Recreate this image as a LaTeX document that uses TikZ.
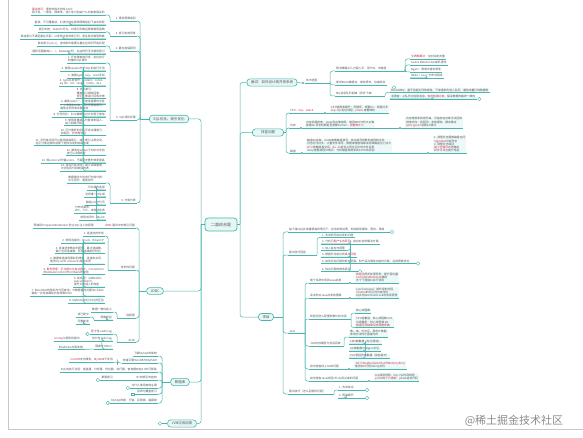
\documentclass[tikz,border=0pt]{standalone}
\usepackage{fontspec}
\usepackage{tikz}
\usepackage{xcolor}
\usetikzlibrary{positioning}
\newfontfamily\cjk{Noto Sans CJK SC}
\definecolor{mline}{RGB}{72,182,174}
\definecolor{mfill}{RGB}{230,247,246}
\definecolor{mtext}{RGB}{85,85,85}
\definecolor{mred}{RGB}{205,45,70}
\newcommand{\hl}[1]{\textcolor{mred}{#1}}

\begin{document}
\begin{tikzpicture}[x=1pt,y=-1pt,font=\cjk,
  root/.style={draw=mline,fill=mfill,rounded corners=3pt,line width=0.7pt,font=\cjk\fontsize{4}{5}\selectfont,text=mtext,minimum width=32pt,minimum height=13pt,inner sep=1pt},
  topic/.style={draw=mline,fill=mfill,rounded corners=3pt,line width=0.6pt,font=\cjk\fontsize{3.5}{4}\selectfont,text=mtext,inner xsep=4pt,inner ysep=2pt},
  leaf/.style={font=\cjk\fontsize{2.8}{3.3}\selectfont,text=mtext,inner xsep=1pt,inner ysep=0.6pt,align=left,
    append after command={(\tikzlastnode.south west) edge[ul] (\tikzlastnode.south east)}},
  leafl/.style={leaf,anchor=south east},
  leafr/.style={leaf,anchor=south west},
  blk/.style={fill=mfill!70},
  ul/.style={draw=mline,line width=0.5pt},
  ln/.style={draw=mline,line width=0.5pt,rounded corners=2.5pt},
  dot/.style={circle,fill=mline!60!black,inner sep=0pt,minimum size=1.6pt},
  ring/.style={circle,draw=mline,fill=white,inner sep=0pt,minimum size=3.6pt,line width=0.4pt}
]
\useasboundingbox (0,0) rectangle (583,438);
\fill[white] (0,0) rectangle (583,438);
\draw[black!22,line width=0.8pt] (8,0) -- (8,429.5) -- (583,429.5);
\node[font=\cjk\fontsize{11}{12}\selectfont,text=black!45] (wm) at (514,421) {@稀土掘金技术社区};

% centre and main topics
\node[root] (root) at (221,224.5) {二面综合题};
\coordinate (lt) at (201,224.5);
\coordinate (rt) at (240,224.5);
\draw[ln] (root.west) -- (lt);
\draw[ln] (root.east) -- (rt);

\node[topic] (sql) at (169,119) {SQL优化、索引优化};
\node[topic] (jdbc) at (155,291) {JDBC};
\node[topic] (db) at (180,382) {数据库};
\node[topic] (jvm) at (182,423.5) {JVM垃圾回收};
\node[topic] (hs) at (272,82.5) {面试：如何设计高并发系统};
\node[topic,minimum width=31pt] (pc) at (268,132.5) {排查问题};
\node[topic] (xm) at (266,317) {项目};
\foreach \t in {sql,jdbc,db,jvm} \draw[ln] (lt) |- (\t.east);
\foreach \t in {hs,pc,xm} \draw[ln] (rt) |- (\t.west);
\node[ring] (jvmr) at (160,423.5) {};
\draw[ln] (jvmr) -- (jvm.west);

% SQL优化
\coordinate (sqlb) at (140,119);
\draw[ln] (sql.west) -- (sqlb);
\foreach \n/\y/\lbl in {1/21/{1. 事务隔离级别},2/36/{2. 索引失效场景},3/51/{3. 最左前缀原则},4/120/{4. SQL调优步骤},5/203/{5. 分库分表}}{
  \node[leafl] (sql\n) at (137,\y) {\lbl};
  \draw[ln] (sqlb) |- (sql\n.south east);
}
\foreach \p in {1,2,3,4,5} \draw[ln] (sql\p.south west) -- (110,0 |- sql\p.south west) coordinate (sql\p b);
\foreach \n/\y/\lbl in {a/15/{\hl{面试常问}：事务的四大特性 ACID\\原子性、一致性、隔离性、持久性分别由什么机制来保证的},b/25/{脏读、不可重复读、幻读分别在哪种隔离级别下会出现呢}}{
  \node[leafl] (sql1\n) at (106,\y) {\lbl};
  \draw[ln] (sql1b) |- (sql1\n.south east);
}
\foreach \n/\y/\lbl in {a/32/{索引失效：like以\%开头、对索引列做运算或使用函数},b/39/{联合索引不满足最左匹配，or条件中含非索引列，发生隐式类型转换}}{
  \node[leafl] (sql2\n) at (106,\y) {\lbl};
  \draw[ln] (sql2b) |- (sql2\n.south east);
}
\foreach \n/\y/\lbl in {a/46/{联合索引(a,b,c)，查询条件需要从最左边的列开始匹配},b/54/{遇到范围查询(>、<、between)时，右边的列无法使用索引}}{
  \node[leafl] (sql3\n) at (106,\y) {\lbl};
  \draw[ln] (sql3b) |- (sql3\n.south east);
}
\foreach \n/\y/\lbl in {a/63/{1. 开启慢查询日志，定位执行\\较慢的SQL语句},b/71/{2. 使用explain分析SQL的执行计划},c/78/{3. 查看type、key、rows字段},
  d/86/{4. type从好到坏：system、const、\\eq ref、ref、range、index、ALL},e/98.5/{5. 优化索引：\\覆盖索引避免回表，\\\hl{索引下推}减少回表次数},
  f/104/{6. 避免select *，只查询需要的字段},g/111/{7. 小表驱动大表，join字段加索引，\\避免过多的表关联查询},h/117/{8. 分页优化：limit偏移量过大时用子查询},
  i/125.5/{9. 使用批量插入代替单条插入，\\减少网络开销},j/135.5/{10. 区分度低的字段不适合建索引，\\如性别、\hl{状态}等字段},
  k/145.5/{11. 字符串字段可以使用前缀索引，减少索引占用空间，\\在区分度足够的前提下选择合适的前缀长度},l/155.5/{12. 避免在where子句中对字段\\进行null值判断},
  m/163/{13. 用union all代替union，不需要去重时效率更高},n/171/{14. 适当冗余字段，减少关联查询，\\大字段拆分到单独的表}}{
  \node[leafl] (sql4\n) at (106,\y) {\lbl};
  \draw[ln] (sql4b) |- (sql4\n.south east);
}
\foreach \n/\y/\lbl in {a/183/{数据量过大时进行分库分表：\\水平拆分、垂直拆分},b/190/{分片键的选择},c/197/{全局唯一ID生成},d/205/{跨库join与分页},
  e/213/{分布式事务：\\2PC、TCC、本地消息表},f/220/{常用中间件：Mycat}}{
  \node[leafl] (sql5\n) at (106,\y) {\lbl};
  \draw[ln] (sql5b) |- (sql5\n.south east);
}

% JDBC
\coordinate (jdb) at (139,291);
\draw[ln] (jdbc.west) -- (jdb);
\foreach \n/\y/\lbl in {1/228/{\hl{JDBC} 面试中的常见问题},2/270/{技术栈问题},3/318/{选择题},4/342/{ACID}}{
  \node[leafl] (jd\n) at (136,\y) {\lbl};
  \draw[ln] (jdb) |- (jd\n.south east);
}
\node[leafl] (jd1a) at (95,228) {预编译 PreparedStatement 防止SQL注入的原理};
\draw[ln] (jd1.south west) -- (jd1a.south east);
\coordinate (jd2b) at (108,270);
\draw[ln] (jd2.south west) -- (jd2b);
\foreach \n/\y/\lbl in {a/236/{1. 连接池的作用},b/243/{2. 常用连接池：Druid、HikariCP},c/253.5/{3. 连接池参数如何配置：最大连接数、\\最小空闲连接数、获取连接超时时间},
  d/264/{4. 数据库连接泄漏如何排查，连接未关闭，\\使用try-with-resources自动关闭},e/274.5/{5. \hl{事务管理：手动提交与自动提交}，Connection\\的setAutoCommit与rollback的使用},
  f/287/{6. 批处理：addBatch、\\executeBatch，\\提升大量插入的性能},g/296/{7. ResultSet的游标与分页查询，大数据量时设置fetchSize\\避免一次性加载到内存导致OOM},
  h/303/{8. MyBatis中\#\{\}与\$\{\}的区别}}{
  \node[leafl] (jd2\n) at (105,\y) {\lbl};
  \draw[ln] (jd2b) |- (jd2\n.south east);
}
\coordinate (jd3b) at (117,318);
\draw[ln] (jd3.south west) -- (jd3b);
\foreach \n/\y/\lbl in {a/312/{数据一致性定义},b/320/{隔离级别}}{
  \node[leafl] (jd3\n) at (113,\y) {\lbl};
  \draw[ln] (jd3b) |- (jd3\n.south east);
}
\coordinate (jd3bb) at (94,320);
\draw[ln] (jd3b.south west) -- (jd3bb);
\foreach \n/\y/\lbl in {a/317/{读已提交},b/324/{可重复读}}{
  \node[leafl] (jd3b\n) at (90,\y) {\lbl};
  \draw[ln] (jd3bb) |- (jd3b\n.south east);
}
\coordinate (jd4b) at (117,342);
\draw[ln] (jd4.south west) -- (jd4b);
\foreach \n/\y/\lbl in {a/334/{原子性 undo log},b/341/{持久性 redo log},c/349/{隔离性 MVCC}}{
  \node[leafl] (jd4\n) at (113,\y) {\lbl};
  \draw[ln] (jd4b) |- (jd4\n.south east);
}
\node[ring] (jd4r) at ([xshift=-2.5pt]jd4a.south west) {};
\draw[ln] (jd4a.south west) -- (jd4r);
\node[leafl] (jd4bx) at (81,341) {\hl{binlog}与两阶段提交};
\draw[ln] (jd4b.south west) -- (jd4bx.south east);
\node[leafl] (jd4cx) at (84,349.5) {ReadView与版本链};
\draw[ln] (jd4c.south west) -- (jd4cx.south east);

% 数据库
\coordinate (dbb) at (162,382);
\draw[ln] (db.west) -- (dbb);
\foreach \n/\y/\lbl in {1/356/{了解MySQL的架构},2/363/{存储引擎InnoDB与MyISAM},3/372/{SQL的执行过程：连接器、分析器、优化器、执行器，查询缓存在8.0中已移除},
  4/380/{B+树索引的结构},5/388/{为什么使用自增主键},6/394/{回表与覆盖索引},7/403/{MySQL的锁：行锁、间隙锁、临键锁}}{
  \node[leafl] (db\n) at (158,\y) {\lbl};
  \draw[ln] (dbb) |- (db\n.south east);
}
\node[leafl] (db2x) at (114,362) {\hl{InnoDB}支持事务，\hl{MyISAM}不支持};
\draw[ln] (db2.south west) -- ++(-4,0) |- (db2x.south east);
\node[leafl] (db4x) at (114,380) {聚簇索引};
\draw[ln] (db4.south west) -- (db4x.south east);
\node[ring] (db4r) at ([xshift=-2.5pt]db4x.south west) {};
\draw[ln] (db4x.south west) -- (db4r);
\node[ring] (db5r) at ([xshift=-2.5pt]db5.south west) {};
\draw[ln] (db5.south west) -- (db5r);
\node[draw=mline,fill=white,inner sep=0pt,minimum width=3.2pt,minimum height=2.6pt,line width=0.4pt] (db6r) at ([xshift=-3pt]db6.south west) {};
\draw[ln] (db6.south west) -- (db6r);
\node[ring] (db7r) at ([xshift=-2.5pt]db7.south west) {};
\draw[ln] (db7.south west) -- (db7r);

% 面试：高并发
\node[dot] (hsd) at (303,83) {};
\draw[ln] (hs.east) -- (hsd);
\node[leafr] (hs0) at (305,83) {技术选型};
\coordinate (hsb) at (330,83);
\draw[ln] (hs0.south east) -- (hsb);
\foreach \n/\y/\lbl in {1/71/{限流策略从几方面入手：用户ID、IP维度},2/85/{使用Redis做缓存，库存预热，扣减库存},3/96/{MQ消息队列削峰（异步下单）}}{
  \node[leafr] (hs\n) at (335,\y) {\lbl};
  \draw[ln] (hsb) |- (hs\n.south west);
}
\node[dot] (hs1d) at (405,71) {};
\draw[ln] (hs1.south east) -- (hs1d);
\foreach \n/\y/\lbl in {a/59/{\hl{令牌桶算法}：应对突发流量},b/65/{Guava RateLimiter单机限流},c/72/{Nginx：限制IP请求频率},d/78/{Redis + Lua：分布式限流}}{
  \node[leafr] (hs1\n) at (410,\y) {\lbl};
  \draw[ln] (hs1d) |- (hs1\n.south west);
}
\coordinate (hs3b) at (385,96);
\draw[ln] (hs3.south east) -- (hs3b);
\foreach \n/\y/\lbl in {a/92.5/{RocketMQ：基于消息队列的特性，下单请求先进入队列，避免流量打垮数据库},b/99/{消费者：从队列中拉取消息，\hl{依次创建订单}，保证数据的最终一致性}}{
  \node[leafr,blk] (hs3\n) at (390,\y) {\lbl};
  \draw[ln] (hs3b) |- (hs3\n.south west);
}
\node[ring] (hs3ar) at (394,87.5) {};
\node[ring] (hs3br) at ([xshift=3pt]hs3b.south east) {};
\draw[ln] (hs3b.south east) -- (hs3br);

% 排查问题
\coordinate (pcb) at (286,132.5);
\draw[ln] (pc.east) -- (pcb);
\foreach \n/\y/\lbl in {1/113/{CPU：\hl{top}、\hl{jstack}},2/128/{内存},3/153/{磁盘}}{
  \node[leafr] (pc\n) at (289,\y) {\lbl};
  \draw[ln] (pcb) |- (pc\n.south west);
}
\node[dot] (pc1d) at (325,113) {};
\draw[ln] (pc1.south east) -- (pc1d);
\node[leafr,blk] (pc1x) at (330,113) {CPU使用率飙升：死循环、频繁GC、线程过多\\\hl{top -Hp} 定位线程，\hl{jstack} 查看堆栈};
\draw[ln] (pc1d) -- (pc1x.south west);
\node[dot] (pc2d) at (301,128) {};
\draw[ln] (pc2.south east) -- (pc2d);
\node[leafr,blk] (pc2x) at (305,128) {内存泄漏排查：jmap导出堆快照，使用MAT分析大对象\\查看GC日志判断是否频繁Full GC，\hl{调整堆大小}};
\draw[ln] (pc2d) -- (pc2x.south west);
\node[dot] (pc2e) at (400,128) {};
\draw[ln] (pc2x.south east) -- (pc2e);
\node[leafr,blk] (pc2y) at (405,128) {内存使用率持续升高，可能存在对象无法回收\\排查方向：线程池、本地缓存、静态集合\\\hl{jstat -gcutil} 观察GC情况};
\draw[ln] (pc2e) -- (pc2y.south west);
\node[dot] (pc3d) at (302,153) {};
\draw[ln] (pc3.south east) -- (pc3d);
\node[leafr,blk] (pc3x) at (306,153) {磁盘IO过高：iostat查看磁盘读写，找出读写频繁的进程和文件\\日志打印过多、大量文件读写、数据库慢查询都会导致磁盘压力过大\\\hl{df -h}查看磁盘空间，\hl{du -sh}定位占用空间大的文件目录\\iotop查看进程IO情况，分析磁盘使用率到100\%的原因};
\draw[ln] (pc3d) -- (pc3x.south west);
\node[dot] (pc3e) at (428,153) {};
\draw[ln] (pc3x.south east) -- (pc3e);
\node[leafr,blk] (pc3y) at (433,153) {1. 清理日志释放磁盘空间\\\hl{logrotate}切割日志\\2. 调整日志级别\\\hl{减少无效日志}的输出\\\hl{异步写日志}提升性能};
\draw[ln] (pc3e) -- (pc3y.south west);

% 项目
\coordinate (xmb) at (283,317);
\draw[ln] (xm.east) -- (xmb);
\foreach \n/\y/\lbl in {1/232/{每个接口在并发量很高的情况下，应该如何处理，例如使用缓存、限流、降级},2/255/{面试技巧回答},3/333/{Java},4/394/{面试技巧（怎么回答的问题）}}{
  \node[leafr] (xm\n) at (288,\y) {\lbl};
  \draw[ln] (xmb) |- (xm\n.south west);
}
\node[ring] (xm1r) at (392,232) {};
\draw[ln] (xm1.south east) -- (xm1r);
\coordinate (xm2b) at (317,255);
\draw[ln] (xm2.south east) -- (xm2b);
\foreach \n/\y/\lbl in {a/237.5/{1. 先说明可能出现的问题},b/244/{2. 分析\hl{问题产生的原因}，给出对应的解决方案},c/250.5/{3. 加入监控与报警},
  d/257/{4. 根据日志定位到\hl{具体问题}},e/263.5/{5. 如何评估问题的影响范围，和产品沟通给出临时方案，后续再做优化},f/271.5/{6. 找出问题的根本原因}}{
  \node[leafr] (xm2\n) at (321,\y) {\lbl};
  \draw[ln] (xm2b) |- (xm2\n.south west);
}
\node[ring] (xm2er) at (418,263.5) {};
\draw[ln] (xm2e.south east) -- (xm2er);
\node[ring] (xm2fr) at (360,271.5) {};
\draw[ln] (xm2f.south east) -- (xm2fr);

\coordinate (xm3b) at (305,333);
\draw[ln] (xm3.south east) -- (xm3b);
\foreach \n/\y/\lbl in {1/283/{哪个系统中用到Java并发},2/298/{谈谈你对Java并发的理解},3/319/{线程池怎么配置参数比较合适},4/346/{JVM内存模型与垃圾回收},5/369/{如何排查线上OOM问题},6/381/{如何排查Java进程CPU占用过高的问题}}{
  \node[leafr] (jv\n) at (309,\y) {\lbl};
  \draw[ln] (xm3b) |- (jv\n.south west);
}
\node[dot] (jv1d) at (350,283) {};
\draw[ln] (jv1.south east) -- (jv1d);
\node[leafr,blk] (jv1x) at (355,283) {\hl{线程池}异步处理任务，提升吞吐量\\\hl{CompletableFuture}编排\\多个下游接口并行调用};
\draw[ln] (jv1d) -- (jv1x.south west);
\node[dot] (jv2d) at (350,298) {};
\draw[ln] (jv2.south east) -- (jv2d);
\node[leafr,blk] (jv2x) at (355,298) {synchronized：锁升级的过程\\\hl{volatile}的可见性与有序性\\AQS与ReentrantLock的实现原理};
\draw[ln] (jv2d) -- (jv2x.south west);
\coordinate (jv3b) at (351,319);
\draw[ln] (jv3.south east) -- (jv3b);
\node[leafr,blk] (jv3a) at (355,313) {核心线程数};
\node[leafr,blk] (jv3c) at (355,327.5) {CPU密集型：核心线程数 N+1\\IO密集型：核心线程数 2N\\\hl{根据压测结果动态调整参数}};
\draw[ln] (jv3b) |- (jv3a.south west);
\draw[ln] (jv3b) |- (jv3c.south west);
\coordinate (jv4b) at (344,346);
\draw[ln] (jv4.south east) -- (jv4b);
\foreach \n/\y/\lbl in {a/337/{堆、栈、方法区、程序计数器\\本地方法栈与直接内存},b/344/{\hl{CMS}收集器（标记清除）},c/351/{\hl{G1}收集器与Region分区},d/358/{\hl{ZGC}低延迟收集器（染色指针）}}{
  \node[leafr,blk] (jv4\n) at (349,\y) {\lbl};
  \draw[ln] (jv4b) |- (jv4\n.south west);
}
\node[dot] (jv5d) at (349,369) {};
\draw[ln] (jv5.south east) -- (jv5d);
\node[leafr,blk] (jv5x) at (354,369) {\hl{-XX:+HeapDumpOnOutOfMemoryError}\\使用\hl{MAT}分析dump文件};
\draw[ln] (jv5d) -- (jv5x.south west);
\node[dot] (jv6d) at (369,381) {};
\draw[ln] (jv6.south east) -- (jv6d);
\node[leafr,blk] (jv6x) at (374,381) {top找到进程，top -Hp找到线程\\\hl{printf转十六进制}，jstack定位代码};
\draw[ln] (jv6d) -- (jv6x.south west);

\coordinate (xm4b) at (334,394);
\draw[ln] (xm4.south east) -- (xm4b);
\foreach \n/\y/\lbl in {a/390/{1. 先说结论},b/398/{2. 再讲细节}}{
  \node[leafr] (xm4\n) at (338,\y) {\lbl};
  \draw[ln] (xm4b) |- (xm4\n.south west);
  \node[ring] (xm4\n r) at (367,\y) {};
  \draw[ln] (xm4\n.south east) -- (xm4\n r);
}
\end{tikzpicture}
\end{document}
